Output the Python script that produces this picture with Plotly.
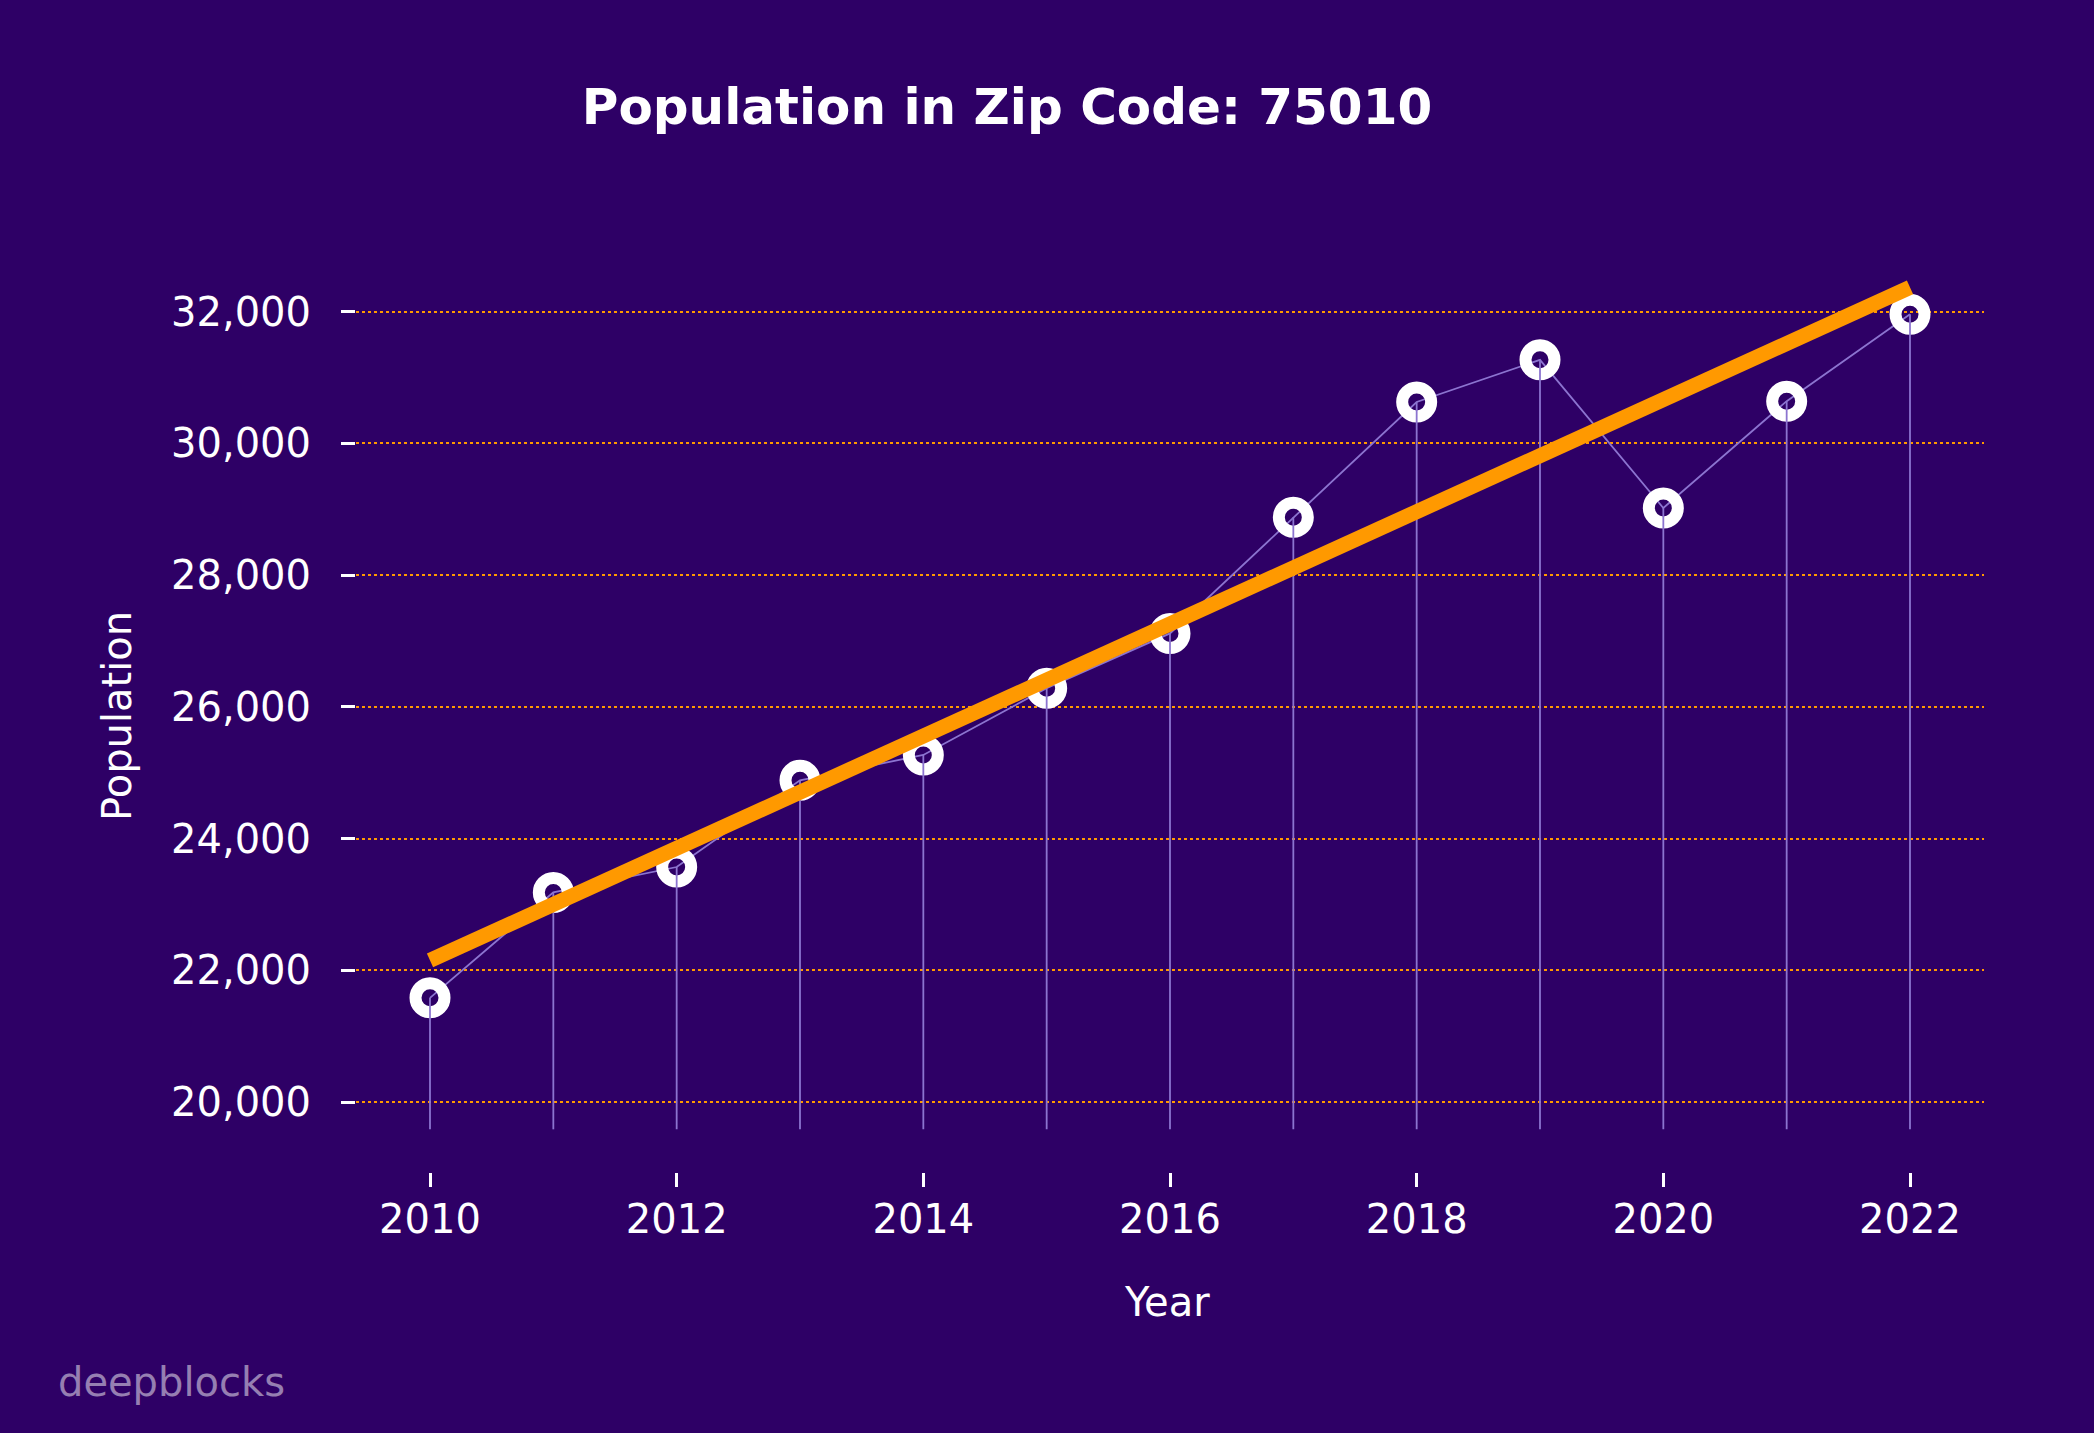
import plotly.graph_objects as go

# ---- data ----
years = [2010, 2011, 2012, 2013, 2014, 2015, 2016, 2017, 2018, 2019, 2020, 2021, 2022]
population = [21582, 23182, 23568, 24885, 25270, 26284, 27115, 28878, 30629, 31270, 29020, 30642, 31960]
stem_base = 19585
trend_years = [2010, 2022]
trend_values = [22150, 32370]
y_ticks = [20000, 22000, 24000, 26000, 28000, 30000, 32000]
x_ticks = [2010, 2012, 2014, 2016, 2018, 2020, 2022]
title_text = "Population in Zip Code: 75010"
x_title = "Year"
y_title = "Population"
watermark = "deepblocks"

# ---- style / layout ----
W, H = 2094, 1433
L, R, T, B = 356, 110, 246, 261
PW, PH = W - L - R, H - T - B
BG = "#2e0066"
ORANGE = "#ff9900"
PURPLE = "#8c74d0"
FONT = "DejaVu Sans"


def px_x(px):
    return (px - L) / PW


def px_y(py):
    return (H - B - py) / PH


stem_x, stem_y = [], []
for yr, v in zip(years, population):
    stem_x += [yr, yr, None]
    stem_y += [stem_base, v, None]

fig = go.Figure()
fig.add_trace(go.Scatter(x=years, y=population, mode="lines",
                         line=dict(color=PURPLE, width=1.8), hoverinfo="skip"))
fig.add_trace(go.Scatter(x=years, y=population, mode="markers",
                         marker=dict(symbol="circle", size=29, color="rgba(0,0,0,0)",
                                     line=dict(color="white", width=12))))
fig.add_trace(go.Scatter(x=stem_x, y=stem_y, mode="lines",
                         line=dict(color=PURPLE, width=1.8), hoverinfo="skip"))
fig.add_trace(go.Scatter(x=trend_years, y=trend_values, mode="lines",
                         line=dict(color=ORANGE, width=15)))

fig.update_layout(
    width=W, height=H,
    margin=dict(l=L, r=R, t=T, b=B, pad=0),
    paper_bgcolor=BG, plot_bgcolor=BG,
    showlegend=False,
    font=dict(family=FONT, color="white", size=40),
    title=dict(text="<b>" + title_text + "</b>", x=1007 / W, y=1 - 106 / H,
               xanchor="center", yanchor="middle", xref="container", yref="container",
               font=dict(family=FONT, size=50, color="white")),
)
fig.update_xaxes(range=[2009.4, 2022.6], tickvals=x_ticks, ticktext=[str(t) for t in x_ticks],
                 showgrid=False, zeroline=False, showline=False,
                 ticks="outside", ticklen=14, tickwidth=2.5, tickcolor="white",
                 ticklabelstandoff=-2,
                 tickfont=dict(family=FONT, size=40, color="white"))
fig.update_yaxes(range=[18937, 32998], tickvals=y_ticks, tickformat=",",
                 showgrid=True, gridcolor=ORANGE, gridwidth=2, griddash="dot",
                 zeroline=False, showline=False,
                 ticks="outside", ticklen=14, tickwidth=2.5, tickcolor="white",
                 ticklabelstandoff=22,
                 tickfont=dict(family=FONT, size=40, color="white"))

fig.add_annotation(text=x_title, xref="paper", yref="paper", x=px_x(1167), y=px_y(1302),
                   xanchor="center", yanchor="middle", showarrow=False,
                   font=dict(family=FONT, size=40, color="white"))
fig.add_annotation(text=y_title, xref="paper", yref="paper", x=px_x(117), y=px_y(716),
                   xanchor="center", yanchor="middle", showarrow=False, textangle=-90,
                   font=dict(family=FONT, size=40, color="white"))
fig.add_annotation(text=watermark, xref="paper", yref="paper", x=px_x(56), y=px_y(1382),
                   xanchor="left", yanchor="middle", showarrow=False,
                   font=dict(family=FONT, size=40, color="rgba(255,255,255,0.5)"))

fig.write_html("out.html")
